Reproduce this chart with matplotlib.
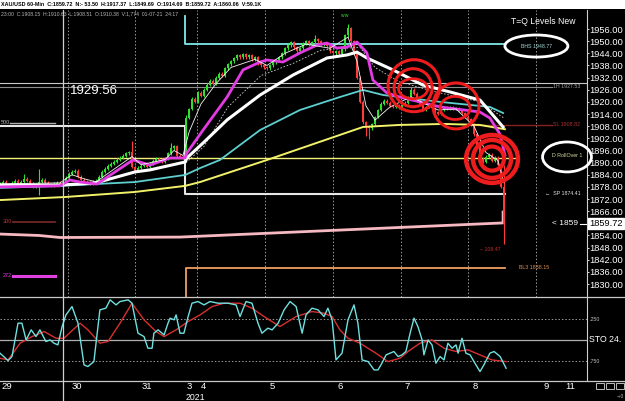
"""
XAU/USD 60-min -- T=Q levels with moving averages and stochastic panel
Output: out.png (625x401)
"""

import matplotlib
matplotlib.use("Agg")
import matplotlib.pyplot as plt
from matplotlib.patches import Ellipse, Rectangle
from matplotlib.lines import Line2D

FONT = ["Liberation Sans", "DejaVu Sans"]

# ---- hourly candles, bar 0 = left edge of the screen ----
FIRST_OPEN = 1879.0
CLOSES = [
    1879.5, 1880.5, 1879.0, 1878.5, 1880.0, 1881.0, 1879.5, 1880.5, 1882.0, 1881.0,
    1879.5, 1878.0, 1879.0, 1880.5, 1881.5, 1880.0, 1879.0, 1878.5, 1879.5, 1880.0,
    1879.0, 1880.5, 1882.5, 1884.5, 1885.5, 1886.0, 1883.0, 1881.5, 1880.5, 1880.0,
    1879.5, 1880.5, 1881.0, 1883.0, 1885.5, 1887.0, 1888.5, 1889.5, 1890.5, 1891.5,
    1892.5, 1893.5, 1894.5, 1895.0, 1888.0, 1886.0, 1887.5, 1888.5, 1889.0, 1888.0,
    1889.5, 1891.0, 1892.0, 1891.5, 1890.5, 1892.0, 1894.5, 1897.0, 1898.0, 1893.5,
    1893.0, 1892.5, 1912.0, 1916.5, 1921.5, 1920.0, 1924.5, 1923.0, 1926.0, 1928.5,
    1930.5, 1929.0, 1932.0, 1934.0, 1933.0, 1936.5, 1938.5, 1940.0, 1941.5, 1943.0,
    1942.0, 1943.5, 1942.0, 1943.0, 1941.0, 1942.0, 1939.0, 1938.0, 1937.0, 1936.5,
    1938.0, 1939.5, 1940.5, 1942.0, 1944.0, 1946.5, 1948.0, 1949.5, 1947.0, 1945.0,
    1946.5, 1949.0, 1950.0, 1948.5, 1949.5, 1951.0, 1950.0, 1948.5, 1949.0, 1947.5,
    1945.0, 1944.0, 1945.0, 1943.5, 1946.0, 1953.0, 1956.5, 1950.0, 1944.0, 1932.0,
    1920.0, 1910.0, 1908.0, 1907.0, 1909.0, 1912.5, 1916.0, 1919.0, 1920.5, 1919.5,
    1918.0, 1917.5, 1918.5, 1917.0, 1918.5, 1919.5, 1922.0, 1926.0, 1924.0, 1920.5,
    1919.0, 1916.0, 1917.5, 1918.5, 1917.0, 1915.0, 1914.0, 1916.0, 1917.5, 1916.5,
    1917.5, 1916.5, 1917.0, 1915.5, 1914.5, 1912.5, 1911.5, 1909.0, 1904.0, 1898.0,
    1892.0, 1890.5, 1893.0, 1894.0, 1891.0, 1892.5, 1889.0, 1878.0, 1859.72,
]
WICK_HIGH = {8: 1884.5, 13: 1887.0, 44: 1900.5, 57: 1899.5, 62: 1913.5, 105: 1953.0,
             116: 1958.5, 137: 1927.5, 168: 1889.0}
WICK_LOW = {13: 1874.0, 122: 1903.0, 123: 1901.5, 168: 1849.69}

# ---- moving averages (bar, price) ----
YELLOW_X = [0, 21.7, 45, 61.7, 66.7, 89, 121, 133, 148, 160, 168.3]
YELLOW_Y = [1871.5, 1873.0, 1875.5, 1878.5, 1880.4, 1891.3, 1907.6, 1908.6, 1909.1, 1908.6, 1906.5]

TEAL_X = [0, 20, 45, 61.7, 66.7, 73.3, 86.7, 100, 113.3, 121, 127.7, 146.7, 163.3, 167.7]
TEAL_Y = [1877.5, 1878.5, 1880.4, 1883.9, 1887.3, 1891.3, 1906.1, 1916.0, 1922.4, 1925.9,
          1923.4, 1920.0, 1917.5, 1914.5]

WHITE_X = [0, 20, 31.7, 45, 50, 61.7, 62.3, 67.7, 75.7, 86.7, 97.7, 109, 115.7, 119,
           122.3, 131, 141, 150, 160, 167.7]
WHITE_Y = [1878.9, 1878.9, 1879.9, 1885.4, 1886.4, 1890.3, 1892.3, 1899.7, 1911.1, 1923.4,
           1933.3, 1941.7, 1943.2, 1944.6, 1941.7, 1935.8, 1928.3, 1924.9, 1920.9, 1907.6]

MAGENTA_X = [0, 20, 23.3, 26.7, 32.3, 44.3, 50, 56.7, 61.7, 62.3, 67.7, 75.7, 81, 86.7,
             89, 94.3, 100, 105.7, 109, 112.3, 115.7, 119, 122.3, 124.3, 129, 133.3,
             146.7, 160, 163.3, 166.7, 168.3]
MAGENTA_Y = [1878.0, 1878.5, 1881.4, 1880.4, 1879.4, 1891.3, 1888.8, 1892.3, 1892.3, 1894.8,
             1906.1, 1922.4, 1935.8, 1939.7, 1940.7, 1939.7, 1944.2, 1948.1, 1949.1, 1946.6,
             1947.1, 1949.6, 1944.2, 1930.8, 1924.4, 1922.4, 1917.5, 1915.0, 1912.0, 1903.9,
             1893.8]

FAST_X = [0, 20, 24, 28, 32, 44, 47, 55, 58, 61, 63, 67, 72, 77, 85, 89, 95, 102, 110,
          116, 119, 122, 125, 130, 137, 146, 152, 158, 162, 166, 168]
FAST_Y = [1879.5, 1880.0, 1884.0, 1882.0, 1880.5, 1893.0, 1889.0, 1891.5, 1896.0, 1893.5,
          1905.0, 1919.0, 1929.0, 1937.0, 1941.0, 1938.0, 1944.0, 1948.5, 1946.5, 1952.0,
          1940.0, 1918.0, 1911.0, 1917.5, 1922.5, 1916.0, 1916.5, 1908.0, 1895.0, 1891.0,
          1880.0]

DOTTED_X = [62, 68, 76, 87, 98, 107, 116, 120, 125, 133, 145, 160, 168]
DOTTED_Y = [1890.0, 1898.0, 1917.5, 1933.0, 1939.2, 1945.6, 1946.6, 1947.0, 1937.0,
            1930.0, 1925.0, 1920.0, 1912.0]

PINK_X = [0, 13, 20, 60, 167.7, 167.7]
PINK_Y = [1854.7, 1854.0, 1853.0, 1853.2, 1860.2, 1865.6]

# ---- T=Q levels ----
GRAY_LEVEL_X = [0, 61.7, 61.7, 168.3]
GRAY_LEVEL_Y = [1908.1, 1908.1, 1874.41, 1874.41]
CYAN_LEVEL_X = [61.7, 61.7, 168.3]
CYAN_LEVEL_Y = [1962.4, 1948.77, 1948.77]
ORANGE_LEVEL_X = [62, 62, 168.3]
ORANGE_LEVEL_Y = [1823.6, 1838.15, 1838.15]
ROLLOVER = 1892.5
CROSS_PRICE = 1929.56
H1_LEVEL = 1927.53
SL_LEVEL = 1908.82
LAST = 1859.72

PRICE_TICKS = [1956, 1950, 1944, 1938, 1932, 1926, 1920, 1914, 1908, 1902, 1896,
               1890, 1884, 1878, 1872, 1866, 1854, 1848, 1842, 1836, 1830]

DAY_BARS = [22.7, 45, 65.7, 88.3, 111, 133.7, 156, 178.7]
DATE_LABELS = ["29", "30", "31", "3", "4", "5", "6", "7", "8", "9", "11"]
DATE_BARS = [2.3, 25.7, 49, 63, 67.7, 90.7, 113.3, 135.7, 158.3, 182, 190]
CURSOR_BAR = 21

# ---- stochastic (axis drawn inverted, like the terminal) ----
STO_FAST_X = [0, 2.7, 4, 6, 7.3, 8.7, 10.4, 12, 13.3, 15.3, 16.7, 18, 19.3, 20.7, 22, 24,
              26, 28, 29.3, 31.3, 33.3, 35.3, 36.7, 38.7, 40, 42.7, 44, 46, 48, 49.3, 50.7,
              51.3, 52.7, 54.7, 56, 56.7, 58, 58.7, 60, 61.3, 62.7, 64, 66, 68, 70, 72.7,
              76, 78.7, 80, 82, 84, 86, 87.3, 89.3, 90.7, 92.7, 94.7, 96.7, 98.7, 100.7,
              102, 104, 106, 108, 109.3, 110.7, 112, 114, 116, 118, 119.3, 120.7, 122.7,
              124.7, 126, 127.3, 128.7, 130, 131.3, 132.7, 134, 135.3, 136.7, 138, 139.3,
              140.7, 141.3, 142.7, 144, 145.3, 146.7, 148, 149.3, 150.7, 152, 152.7, 154,
              155.3, 156.7, 158, 160, 161.3, 163.3, 164.7, 166.7, 168.7]
STO_FAST_Y = [65.9, 74.7, 69.9, 30.2, 30.2, 50.1, 38.1, 46.1, 38.1, 52.0, 50.1, 54.0, 56.0,
              34.2, 20.3, 10.4, 30.2, 79.8, 81.8, 75.9, 14.3, 12.3, 2.4, 8.4, 4.4, 2.4, 6.4,
              42.1, 46.1, 60.0, 60.0, 42.1, 38.1, 44.1, 30.2, 24.2, 26.2, 20.3, 42.1, 42.1,
              22.3, 6.4, 4.4, 8.4, 4.4, 6.4, 6.4, 8.4, 22.3, 4.4, 6.4, 30.2, 42.1, 36.1,
              38.1, 30.2, 14.3, 4.4, 10.4, 42.1, 20.3, 12.3, 14.3, 22.3, 12.3, 26.2, 73.9,
              65.9, 26.2, 8.4, 30.2, 73.9, 75.9, 85.8, 85.8, 77.8, 67.9, 65.9, 63.9, 69.9,
              67.9, 63.9, 42.1, 24.2, 34.2, 50.1, 67.9, 50.1, 56.0, 77.8, 69.9, 73.9, 54.0,
              60.0, 56.0, 65.9, 48.1, 65.9, 67.9, 75.9, 87.8, 79.8, 65.9, 63.9, 69.9, 83.8]
STO_SLOW_X = [0, 2.7, 6.7, 10.7, 14.7, 18.7, 21.3, 26.7, 29.3, 33.3, 36, 40, 44, 48, 52,
              54.7, 58.7, 62.7, 66.7, 70.7, 74.7, 80, 84, 88, 93.3, 98.7, 104, 108, 110.7,
              113.3, 116, 120, 125.3, 129.3, 133.3, 136, 140, 144, 148, 152, 156, 160, 164,
              168.7]
STO_SLOW_Y = [71.9, 73.9, 54.0, 46.1, 40.1, 48.1, 48.1, 30.2, 38.1, 54.0, 52.0, 30.2, 6.4,
              26.2, 40.1, 46.1, 38.1, 28.2, 20.3, 10.4, 6.4, 6.4, 12.3, 22.3, 34.2, 22.3,
              16.3, 18.3, 22.3, 38.1, 48.1, 54.0, 65.9, 75.9, 71.9, 63.9, 54.0, 50.1, 60.0,
              63.9, 61.9, 67.9, 73.9, 75.9]

UP, DOWN = "#2fe02f", "#ff3a3a"
GRID = "#9a9a9a"


def px_y(y):
    """figure fraction for a pixel row counted from the top"""
    return 1 - y / 401


def draw_candles(ax):
    opens = [FIRST_OPEN] + CLOSES[:-1]
    bars = list(range(len(CLOSES)))
    colors = [UP if c >= o else DOWN for o, c in zip(opens, CLOSES)]
    highs = [WICK_HIGH.get(i, max(o, c) + 0.7) for i, (o, c) in enumerate(zip(opens, CLOSES))]
    lows = [WICK_LOW.get(i, min(o, c) - 0.7) for i, (o, c) in enumerate(zip(opens, CLOSES))]
    ax.vlines(bars, lows, highs, colors=colors, lw=0.8, zorder=3)
    heights = [c - o if abs(c - o) > 0.4 else 0.4 for o, c in zip(opens, CLOSES)]
    ax.bar(bars, heights, bottom=opens, width=0.72, color=colors, linewidth=0, zorder=3)


def main_panel(fig):
    ax = fig.add_axes([0, px_y(297), 587 / 625, 287 / 401])
    ax.set_facecolor("black")
    ax.set_xlim(0, 587 / 3)
    ax.set_ylim(1823.6, 1965.4)
    for s in ("top", "left", "bottom"):
        ax.spines[s].set_visible(False)
    ax.spines["right"].set_color("#cfcfcf")
    ax.set_xticks([])
    ax.yaxis.tick_right()
    ax.set_yticks(PRICE_TICKS)
    ax.set_yticklabels([f"{t:.2f}" for t in PRICE_TICKS])
    ax.tick_params(axis="y", colors="white", labelsize=6.7, length=1.5, pad=0.3, width=0.6)

    for b in DAY_BARS:
        ax.axvline(b, color=GRID, lw=0.7, ls=(0, (1.5, 2)), zorder=1)

    # levels
    ax.plot(GRAY_LEVEL_X, GRAY_LEVEL_Y, color="#e6e6e6", lw=1.5, zorder=2)
    ax.plot(CYAN_LEVEL_X, CYAN_LEVEL_Y, color="#7fe8e8", lw=1.3, zorder=2)
    ax.plot(ORANGE_LEVEL_X, ORANGE_LEVEL_Y, color="#f0a060", lw=1.3, zorder=2, clip_on=False)
    ax.plot([0, 172.3], [ROLLOVER, ROLLOVER], color="#f2f27a", lw=1.0, zorder=2)
    ax.plot([0, 184], [H1_LEVEL, H1_LEVEL], color="#8c8c8c", lw=0.8, zorder=2)
    ax.plot([157, 184], [SL_LEVEL, SL_LEVEL], color="#8a1f1f", lw=1.0, zorder=2)
    ax.axhline(CROSS_PRICE, color="#c8c8c8", lw=0.8, zorder=2)

    # legend stubs on the left
    ax.plot([3.3, 18.3], [1909.6, 1909.6], color="#b0b0b0", lw=1.0, zorder=2)
    ax.plot([4.3, 18.3], [1860.7, 1860.7], color="#7a2a2a", lw=1.2, zorder=2)
    ax.plot([4.3, 18.3], [1834.0, 1834.0], color="#e040e0", lw=2.2, zorder=2)
    ax.text(0.3, 1909.6, "500", color="#b0b0b0", fontsize=4, va="center")
    ax.text(1.0, 1860.7, "300", color="#c03030", fontsize=4, va="center")
    ax.text(1.0, 1834.0, "272", color="#e040e0", fontsize=4, va="center")

    ax.plot(PINK_X, PINK_Y, color="#f6b9c2", lw=2.0, zorder=2)
    draw_candles(ax)
    ax.plot(YELLOW_X, YELLOW_Y, color="#f2f26a", lw=1.4, zorder=4)
    ax.plot(TEAL_X, TEAL_Y, color="#5fd0d0", lw=1.3, zorder=4)
    ax.plot(DOTTED_X, DOTTED_Y, color="#d0d0d0", lw=0.6, ls=(0, (2, 2)), zorder=4)
    ax.plot(WHITE_X, WHITE_Y, color="white", lw=2.2, zorder=4)
    ax.plot(MAGENTA_X, MAGENTA_Y, color="#e23be2", lw=2.0, zorder=4)
    ax.plot(FAST_X, FAST_Y, color="#f4f4f4", lw=0.6, zorder=4)

    # red circles
    for (cx, cy, w, h, lw) in [(138, 1928, 17.3, 25.7, 2.2), (137.7, 1927, 12.7, 18.8, 2.2),
                               (137.7, 1926.5, 9.7, 9.9, 2.0), (152, 1918, 15.3, 22.7, 2.2),
                               (151.7, 1917, 10, 11.4, 2.0), (164, 1891.8, 17.3, 23.7, 3.2),
                               (164, 1891.8, 12.7, 18.8, 3.2), (164, 1892, 8, 11.9, 3.0)]:
        ax.add_patch(Ellipse((cx, cy), w, h, fill=False, ec="#ee1c1c", lw=lw, zorder=6))

    # label ellipses and texts
    ax.add_patch(Ellipse((178.8, 1947.6), 21, 10.9, fill=False, ec="white", lw=2, zorder=6))
    ax.add_patch(Ellipse((189, 1892.8), 16.3, 14.8, fill=False, ec="white", lw=2, zorder=6,
                         clip_on=False))
    ax.text(178.8, 1947.6, "BHS 1948.77", color="#9fd6d6", fontsize=3.8, ha="center",
            va="center")
    ax.text(189, 1893.5, "D RollOver 1", color="#dcdca0", fontsize=3.8, ha="center",
            va="center")
    ax.text(170.3, 1959.5, "T=Q Levels New", color="white", fontsize=6.2, va="center")
    ax.text(184.3, H1_LEVEL, "1H 1927.53", color="#a0a0a0", fontsize=3.8, va="center")
    ax.text(184.3, SL_LEVEL, "SL 1908.82", color="#b03030", fontsize=3.8, va="center")
    ax.text(181.7, 1874.9, "\u2190  SP 1874.41", color="#e0e0e0", fontsize=3.8, va="center")
    ax.text(160, 1847.3, "\u2013 108.47", color="#c03030", fontsize=3.8, va="center")
    ax.text(173, 1838.4, "BL3 1838.15", color="#e09050", fontsize=3.8, va="center")
    ax.text(184, LAST, "< 1859", color="white", fontsize=6, va="center")
    ax.plot([193.3, 195.6], [LAST, LAST], color="white", lw=0.8)
    ax.text(23.3, 1925.4, "1929.56", color="white", fontsize=9.5, va="center")
    ax.text(113.5, 1962.5, "w w", color="#2fe02f", fontsize=3.5, va="center")

    # last price box on the axis
    ax.text(1.004, LAST, f"{LAST:.2f}", transform=ax.get_yaxis_transform(), color="black",
            fontsize=6.7, va="center", ha="left",
            bbox=dict(boxstyle="square,pad=0.1", fc="white", ec="white"))
    return ax


def sto_panel(fig):
    ax = fig.add_axes([0, px_y(381), 587 / 625, 84 / 401])
    ax.set_facecolor("black")
    ax.set_xlim(0, 587 / 3)
    ax.set_ylim(99, -1)
    for s in ax.spines.values():
        s.set_visible(False)
    ax.spines["right"].set_visible(True)
    ax.spines["right"].set_color("#cfcfcf")
    ax.axhline(25, color=GRID, lw=0.7, ls=(0, (1.5, 2)))
    ax.axhline(75, color=GRID, lw=0.7, ls=(0, (1.5, 2)))
    ax.axhline(50, color="#b0b0b0", lw=0.9)
    ax.plot(STO_SLOW_X, STO_SLOW_Y, color="#d83030", lw=1.0, zorder=3)
    ax.plot(STO_FAST_X, STO_FAST_Y, color="#6fe0e0", lw=1.0, zorder=4)

    ax.yaxis.tick_right()
    ax.set_yticks([25, 75])
    ax.set_yticklabels([".250", ".750"])
    ax.tick_params(axis="y", colors="#c0c0c0", labelsize=3.8, length=0, pad=2)
    ax.text(1.004, 50, "STO 24.", transform=ax.get_yaxis_transform(), color="white",
            fontsize=6.3, va="center")

    ax.set_xticks(DATE_BARS)
    ax.set_xticklabels(DATE_LABELS)
    ax.tick_params(axis="x", colors="white", labelsize=6.8, length=0, pad=0.8)
    ax.text(65.3, -16.5 / 84, "2021", transform=ax.get_xaxis_transform(), color="white",
            fontsize=6.3, ha="center", va="center")
    return ax


def header(fig):
    fig.add_artist(Rectangle((0, px_y(9)), 1, 9 / 401, transform=fig.transFigure,
                             fc="white", ec="none"))
    fig.text(0.002, px_y(4.5),
             "XAU/USD 60-Min  C:1859.72  N:- 53.50  H:1917.37  L:1849.69  O:1914.69  "
             "B:1859.72  A:1860.06  V:59.1K",
             color="black", fontsize=3.9, va="center", weight="bold")
    fig.text(0.002, px_y(13.5),
             "23:00  C:1908.15  H:1910.63  L:1908.51  O:1910.38  V:1,774  01-07-21  24:17",
             color="#b8b8b8", fontsize=3.7, va="center")


def frame(fig):
    for y in (297, 381):
        fig.add_artist(Line2D([0, 1], [px_y(y), px_y(y)], color="#c8c8c8", lw=0.9,
                              transform=fig.transFigure))
    fig.add_artist(Line2D([CURSOR_BAR * 3 / 625] * 2, [0, px_y(10)], color="#d0d0d0", lw=0.9,
                          transform=fig.transFigure))
    for i in range(3):
        fig.add_artist(Rectangle(((596 + 10 * i) / 625, px_y(389)), 8 / 625, 6 / 401,
                                 transform=fig.transFigure, fc="none", ec="#bbbbbb", lw=0.7))
    fig.text(617 / 625, px_y(397), "-+0", color="#bbbbbb", fontsize=3.5, va="center")


if __name__ == "__main__":
    plt.rcParams["font.family"] = FONT
    fig = plt.figure(figsize=(6.25, 4.01), dpi=100, facecolor="black")
    main_panel(fig)
    sto_panel(fig)
    header(fig)
    frame(fig)
    fig.savefig("out.png", dpi=100, facecolor="black")
